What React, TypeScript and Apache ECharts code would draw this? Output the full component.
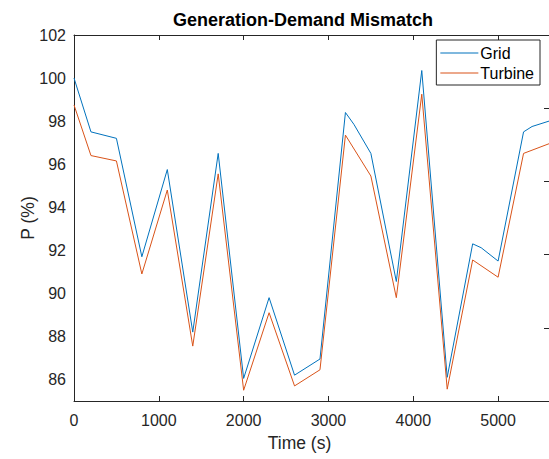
import React, { useEffect, useRef } from "react";
import * as echarts from "echarts";

const gridTime = [0, 200, 500, 800, 1100, 1400, 1700, 2000, 2300, 2600, 2900, 3200, 3300, 3500, 3800, 4100, 4400, 4700, 4800, 5000, 5300, 5400, 5600];
const gridValues = [100.0, 97.5, 97.2, 91.7, 95.75, 88.2, 96.5, 86.05, 89.8, 86.2, 86.95, 98.4, 97.85, 96.5, 90.55, 100.35, 86.1, 92.3, 92.12, 91.5, 97.5, 97.75, 98.0];

const turbineTime = [0, 200, 500, 800, 1100, 1400, 1700, 2000, 2300, 2600, 2900, 3200, 3500, 3800, 4100, 4400, 4700, 5000, 5300, 5600];
const turbineValues = [98.75, 96.4, 96.15, 90.9, 94.8, 87.55, 95.55, 85.5, 89.1, 85.7, 86.45, 97.35, 95.45, 89.8, 99.25, 85.55, 91.55, 90.75, 96.5, 96.95];

const xTicks = [0, 1000, 2000, 3000, 4000, 5000];
const yTicks = [86, 88, 90, 92, 94, 96, 98, 100, 102];
const rightTicks = [0.2, 0.4, 0.6, 0.8];

const FONT = "Liberation Sans, Arial, Helvetica, sans-serif";
const AX = "#262626";

export default function App() {
  const ref = useRef<HTMLDivElement>(null);
  useEffect(() => {
    if (!ref.current) return;
    const chart = echarts.init(ref.current, undefined, { renderer: "svg" });
    const axisLine = { show: true, onZero: false, lineStyle: { color: AX, width: 1 } };
    const tick = { show: true, inside: true, length: 5, lineStyle: { color: AX, width: 1 } };
    chart.setOption({
      animation: false,
      backgroundColor: "#ffffff",
      title: {
        text: "Generation-Demand Mismatch",
        left: 298,
        textAlign: "center",
        top: 6,
        textStyle: { fontFamily: FONT, fontSize: 18, fontWeight: "bold", color: "#000" },
      },
      legend: {
        orient: "vertical",
        right: 9,
        top: 40,
        padding: [3, 6, 2, 4],
        itemGap: 0,
        itemWidth: 38,
        itemHeight: 1,
        icon: "rect",
        borderColor: AX,
        borderWidth: 1,
        backgroundColor: "#fff",
        textStyle: { fontFamily: FONT, fontSize: 16, color: "#000", lineHeight: 20, padding: [0, 0, 0, -3] },
        data: ["Grid", "Turbine"],
      },
      grid: { left: 74, right: 0, top: 35, bottom: 58, containLabel: false },
      xAxis: [
        {
          type: "value",
          min: 0,
          max: 5600,
          position: "bottom",
          axisLine,
          axisTick: { ...tick, customValues: xTicks },
          axisLabel: {
            customValues: xTicks,
            formatter: (v: number) => String(v),
            fontFamily: FONT,
            fontSize: 16,
            color: AX,
            margin: 11,
          },
          splitLine: { show: false },
          name: "Time (s)",
          nameLocation: "middle",
          nameGap: 33,
          nameTextStyle: { fontFamily: FONT, fontSize: 17.5, color: AX, padding: [0, 24, 0, 0] },
        },
        {
          type: "value",
          min: 0,
          max: 5600,
          position: "top",
          axisLine,
          axisTick: { ...tick, customValues: xTicks },
          axisLabel: { show: false },
          splitLine: { show: false },
        },
      ],
      yAxis: [
        {
          type: "value",
          min: 85,
          max: 102,
          position: "left",
          axisLine,
          axisTick: { show: false },
          axisLabel: {
            customValues: yTicks,
            formatter: (v: number) => String(v),
            fontFamily: FONT,
            fontSize: 16,
            color: AX,
            margin: 8,
          },
          splitLine: { show: false },
          name: "P (%)",
          nameLocation: "middle",
          nameGap: 37,
          nameMoveOverlap: false,
          nameTextStyle: { fontFamily: FONT, fontSize: 17.5, color: AX },
        },
        {
          type: "value",
          min: 0,
          max: 1,
          position: "right",
          axisLine,
          axisTick: { ...tick, customValues: rightTicks },
          axisLabel: { show: false },
          splitLine: { show: false },
        },
      ],
      series: [
        {
          name: "Grid",
          type: "line",
          xAxisIndex: 0,
          yAxisIndex: 0,
          showSymbol: false,
          color: "#0072BD",
          lineStyle: { width: 1, color: "#0072BD" },
          data: gridTime.map((t, i) => [t, gridValues[i]]),
        },
        {
          name: "Turbine",
          type: "line",
          xAxisIndex: 0,
          yAxisIndex: 0,
          showSymbol: false,
          color: "#D95319",
          lineStyle: { width: 1, color: "#D95319" },
          data: turbineTime.map((t, i) => [t, turbineValues[i]]),
        },
      ],
    });
    return () => chart.dispose();
  }, []);
  return (
    <div
      ref={ref}
      style={{ position: "fixed", left: 0, top: 0, width: 549, height: 459, background: "#fff" }}
    />
  );
}
